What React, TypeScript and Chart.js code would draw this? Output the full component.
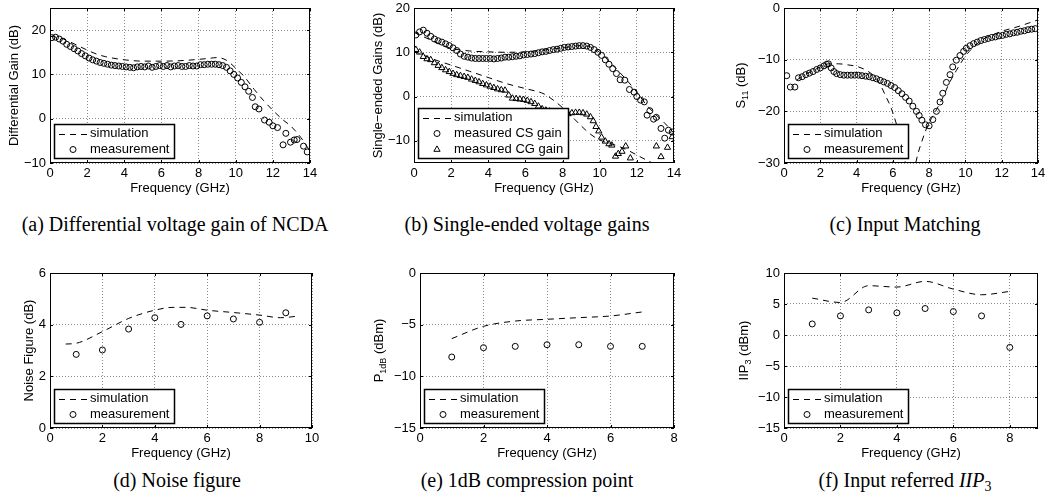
import React, { useEffect, useRef } from 'react';
import { Chart, registerables } from 'chart.js';

Chart.register(...registerables);

const SANS = "'Liberation Sans', Arial, Helvetica, sans-serif";
const SERIF = "'Liberation Serif', 'Times New Roman', Times, serif";
const GRID = '#8a8a8a';

// ---------- (a) Differential gain ----------
const A_MEAS_FREQ = [0.1, 0.3, 0.5, 0.7, 0.9, 1.1, 1.3, 1.5, 1.7, 1.9, 2.1, 2.3, 2.5, 2.7, 2.9, 3.1, 3.3, 3.5, 3.7, 3.9, 4.1, 4.3, 4.5, 4.7, 4.9, 5.1, 5.3, 5.5, 5.7, 5.9, 6.1, 6.3, 6.5, 6.7, 6.9, 7.1, 7.3, 7.5, 7.7, 7.9, 8.1, 8.3, 8.5, 8.7, 8.9, 9.1, 9.3, 9.5, 9.7, 9.9, 10.1, 10.3, 10.5, 10.7, 10.9, 11.05, 11.25, 11.55, 11.8, 12.0, 12.25, 12.55, 12.7, 12.95, 13.15, 13.3, 13.65, 13.85];
const A_MEAS_GAIN = [18.3, 18.4, 18.0, 17.5, 16.8, 16.3, 15.8, 15.3, 14.7, 14.2, 13.7, 13.3, 13.0, 12.7, 12.5, 12.3, 12.1, 12.0, 11.9, 11.8, 11.7, 11.6, 11.5, 11.7, 11.8, 11.7, 11.9, 11.6, 11.8, 12.0, 11.8, 12.0, 11.7, 11.9, 12.0, 11.8, 11.8, 12.0, 11.9, 11.9, 12.2, 12.2, 12.3, 12.3, 12.3, 12.2, 12.0, 11.6, 10.8, 10.0, 9.2, 8.2, 7.2, 6.2, 4.8, 2.7, 2.2, -0.3, -0.8, -1.6, -2.0, -5.9, -3.3, -5.3, -4.8, -4.7, -6.2, -7.5];
const A_SIM_FREQ = [0, 0.5, 1, 1.5, 2, 2.5, 3, 3.5, 4, 5, 6, 7, 8, 8.5, 9, 9.5, 10, 10.5, 11, 11.5, 12, 12.5, 13, 13.5, 14];
const A_SIM_GAIN = [18.6, 18.3, 17.5, 16.5, 15.5, 14.6, 14.0, 13.6, 13.3, 13.0, 13.0, 13.1, 13.4, 13.6, 13.8, 13.2, 11.4, 9.3, 6.6, 4.1, 1.9, -0.1, -1.8, -4.2, -7.3];

// ---------- (b) Single-ended gains ----------
const B_CS_FREQ = [0.1, 0.3, 0.5, 0.7, 0.9, 1.1, 1.3, 1.5, 1.7, 1.9, 2.1, 2.3, 2.5, 2.7, 2.9, 3.1, 3.3, 3.5, 3.7, 3.9, 4.1, 4.3, 4.5, 4.7, 4.9, 5.1, 5.3, 5.5, 5.7, 5.9, 6.1, 6.3, 6.5, 6.7, 6.9, 7.1, 7.3, 7.5, 7.7, 7.9, 8.1, 8.3, 8.5, 8.7, 8.9, 9.1, 9.3, 9.5, 9.7, 9.9, 10.1, 10.3, 10.5, 10.7, 10.9, 11.1, 11.35, 11.6, 11.85, 12.0, 12.2, 12.4, 12.55, 12.7, 12.9, 13.05, 13.3, 13.5, 13.7, 13.9];
const B_CS_GAIN = [13.9, 14.6, 15.0, 14.3, 13.6, 13.0, 12.6, 12.3, 11.9, 11.5, 11.0, 10.4, 9.6, 9.1, 8.9, 8.7, 8.6, 8.6, 8.6, 8.6, 8.6, 8.5, 8.6, 8.7, 8.9, 8.9, 9.0, 9.1, 9.2, 9.4, 9.5, 9.6, 9.7, 9.9, 10.1, 10.2, 10.4, 10.6, 10.7, 10.9, 11.1, 11.2, 11.3, 11.4, 11.5, 11.5, 11.4, 11.1, 10.6, 10.0, 9.3, 8.3, 7.3, 6.3, 5.2, 3.8, 3.7, 1.6, 1.0, 0.0, -0.8, -1.2, -4.2, -3.2, -5.1, -4.7, -7.2, -9.4, -7.6, -8.0];
const B_CG_FREQ = [0.1, 0.3, 0.5, 0.7, 0.9, 1.1, 1.3, 1.5, 1.7, 1.9, 2.1, 2.3, 2.5, 2.7, 2.9, 3.1, 3.3, 3.5, 3.7, 3.9, 4.1, 4.3, 4.5, 4.7, 4.9, 5.1, 5.3, 5.5, 5.7, 5.9, 6.1, 6.3, 6.5, 6.7, 6.9, 7.1, 7.3, 7.5, 7.7, 7.9, 8.1, 8.3, 8.5, 8.7, 8.9, 9.1, 9.3, 9.5, 9.65, 9.8, 9.95, 10.1, 10.3, 10.5, 10.65, 10.85, 11.0, 11.2, 11.4, 11.65, 13.05, 13.3, 13.65, 13.9];
const B_CG_GAIN = [10.6, 10.0, 9.0, 8.5, 8.3, 7.6, 7.0, 6.5, 6.0, 5.6, 5.2, 4.9, 4.7, 4.5, 4.3, 3.9, 3.6, 3.3, 2.9, 2.6, 2.3, 2.0, 1.7, 1.5, 1.4, 0.3, -0.4, -0.5, -0.6, -0.7, -0.9, -1.2, -1.6, -2.2, -2.8, -3.1, -3.3, -3.5, -3.7, -3.9, -4.0, -3.9, -3.7, -3.6, -3.6, -3.7, -4.0, -4.6, -5.5, -6.8, -7.8, -9.2, -10.1, -10.7, -11.0, -13.5, -12.9, -12.4, -11.2, -13.9, -11.2, -13.6, -11.5, -9.1];
const B_SIM_CS_FREQ = [0, 1, 2, 3, 4, 5, 6, 7, 8, 9, 9.5, 10, 10.5, 11, 11.5, 12, 12.5, 13, 13.5, 14];
const B_SIM_CS_GAIN = [14.5, 12.6, 10.9, 10.3, 10.1, 10.0, 10.1, 10.5, 11.0, 11.5, 11.2, 10.0, 8.0, 5.8, 3.5, 1.0, -1.8, -4.0, -6.0, -8.3];
const B_SIM_CG_FREQ = [0, 1, 2, 3, 4, 5, 6, 7, 7.5, 8, 8.5, 9, 9.5, 10, 10.5, 11, 11.5, 12, 12.5, 13];
const B_SIM_CG_GAIN = [10.3, 8.5, 7.1, 5.7, 4.3, 2.9, 1.8, 0.6, -0.8, -2.5, -4.5, -6.6, -8.5, -9.8, -10.5, -11.2, -12.1, -13.2, -14.3, -15.3];

// ---------- (c) Input matching ----------
const C_MEAS_FREQ = [0.15, 0.35, 0.6, 0.8, 1.0, 1.2, 1.4, 1.6, 1.8, 2.0, 2.2, 2.35, 2.45, 2.6, 2.75, 2.9, 3.1, 3.3, 3.5, 3.7, 3.9, 4.1, 4.3, 4.5, 4.7, 4.9, 5.1, 5.3, 5.5, 5.7, 5.9, 6.1, 6.3, 6.5, 6.7, 6.9, 7.1, 7.3, 7.45, 7.6, 7.8, 8.0, 8.2, 8.4, 8.6, 8.75, 8.95, 9.15, 9.3, 9.5, 9.7, 9.9, 10.05, 10.25, 10.45, 10.65, 10.85, 11.05, 11.25, 11.45, 11.65, 11.85, 12.05, 12.25, 12.45, 12.65, 12.85, 13.05, 13.25, 13.45, 13.65, 13.85];
const C_MEAS_S11 = [-13.1, -15.3, -15.3, -13.5, -13.3, -12.9, -12.6, -12.3, -11.9, -11.6, -11.2, -10.9, -10.8, -11.6, -12.3, -12.7, -12.9, -13.0, -13.0, -13.0, -13.0, -13.0, -13.1, -13.2, -13.3, -13.5, -13.7, -14.0, -14.3, -14.6, -15.0, -15.4, -16.0, -16.6, -17.3, -18.0, -19.0, -20.0, -20.8, -21.7, -22.6, -22.8, -21.6, -20.0, -18.2, -16.5, -14.4, -12.9, -11.4, -10.1, -9.2, -8.4, -7.8, -7.3, -6.9, -6.6, -6.3, -6.1, -5.9, -5.7, -5.6, -5.4, -5.3, -5.1, -5.0, -4.8, -4.7, -4.5, -4.4, -4.2, -4.1, -4.0];
const C_SIM_FREQ = [0.7, 1, 1.5, 2, 2.5, 3, 3.5, 4, 4.5, 5, 5.3, 5.6, 5.9, 6.2, 6.5, 6.8, 7.0, 7.2, 7.4, 7.6, 7.8, 8.0, 8.4, 8.8, 9.1, 9.5, 10, 10.5, 11, 11.5, 12, 12.5, 13, 13.5, 14];
const C_SIM_S11 = [-14.0, -13.2, -12.3, -11.4, -10.8, -10.8, -11.0, -11.3, -12.0, -13.3, -14.8, -17.0, -19.3, -22.5, -26.5, -32.0, -35.0, -31.0, -28.0, -25.8, -23.8, -22.2, -19.7, -17.0, -14.6, -12.1, -9.3, -7.4, -6.0, -5.2, -4.5, -4.0, -3.5, -2.9, -2.3];

// ---------- (d) Noise figure ----------
const D_MEAS_FREQ = [1, 2, 3, 4, 5, 6, 7, 8, 9];
const D_MEAS_NF = [2.85, 3.02, 3.83, 4.27, 4.01, 4.34, 4.22, 4.09, 4.46];
const D_SIM_FREQ = [0.6, 1, 2, 3, 4, 4.7, 5.2, 6, 7, 8, 8.8, 9.2, 9.5];
const D_SIM_NF = [3.25, 3.28, 3.73, 4.24, 4.56, 4.67, 4.67, 4.56, 4.47, 4.37, 4.27, 4.3, 4.34];

// ---------- (e) P1dB ----------
const E_FREQ = [1, 2, 3, 4, 5, 6, 7];
const E_MEAS_P1DB = [-8.13, -7.23, -7.1, -6.94, -6.94, -7.1, -7.1];
const E_SIM_P1DB = [-6.35, -5.16, -4.65, -4.48, -4.32, -4.16, -3.77];

// ---------- (f) IIP3 ----------
const F_FREQ = [1, 2, 3, 4, 5, 6, 7, 8];
const F_MEAS_IIP3 = [1.78, 3.08, 4.05, 3.57, 4.27, 3.78, 3.08, -2.0];
const F_SIM_IIP3 = [5.95, 5.24, 7.95, 7.73, 8.65, 7.4, 6.49, 7.03];

const LEG_SIM = 'simulation';
const LEG_MEAS = 'measurement';
const LEG_CS = 'measured CS gain';
const LEG_CG = 'measured CG gain';
const X_TITLE = 'Frequency (GHz)';

type Seg = { t: string; sub?: boolean };
type LegendItem = { label: string; kind: 'dash' | 'circle' | 'triangle' };

const pts = (xs: number[], ys: number[]) => xs.map((x, i) => ({ x, y: ys[i] }));

const simDs = (xs: number[], ys: number[]) => ({
  data: pts(xs, ys),
  showLine: true,
  borderColor: '#000',
  borderWidth: 1,
  borderDash: [6, 5],
  pointRadius: 0,
  cubicInterpolationMode: 'monotone',
  fill: false,
});
const circDs = (xs: number[], ys: number[]) => ({
  data: pts(xs, ys),
  showLine: false,
  pointStyle: 'circle',
  pointRadius: 3,
  borderColor: '#000',
  borderWidth: 1,
  backgroundColor: 'rgba(0,0,0,0)',
});
const triDs = (xs: number[], ys: number[]) => ({
  data: pts(xs, ys),
  showLine: false,
  pointStyle: 'triangle',
  pointRadius: 3.6,
  borderColor: '#000',
  borderWidth: 1,
  backgroundColor: 'rgba(0,0,0,0)',
});

interface PanelDef {
  id: string;
  plot: { l: number; t: number; r: number; b: number };
  xMax: number;
  yMin: number;
  yMax: number;
  yStep: number;
  yTitle: Seg[];
  yTitleOffset: number;
  datasets: any[];
  legend: LegendItem[];
}

const PANELS: PanelDef[] = [
  {
    id: 'a', plot: { l: 50, t: 8, r: 310, b: 163 }, xMax: 14, yMin: -10, yMax: 25, yStep: 10,
    yTitle: [{ t: 'Differential Gain (dB)' }], yTitleOffset: 37,
    datasets: [simDs(A_SIM_FREQ, A_SIM_GAIN), circDs(A_MEAS_FREQ, A_MEAS_GAIN)],
    legend: [{ label: LEG_SIM, kind: 'dash' }, { label: LEG_MEAS, kind: 'circle' }],
  },
  {
    id: 'b', plot: { l: 414, t: 8, r: 674, b: 163 }, xMax: 14, yMin: -15, yMax: 20, yStep: 10,
    yTitle: [{ t: 'Single\u2212ended Gains (dB)' }], yTitleOffset: 37,
    datasets: [
      simDs(B_SIM_CS_FREQ, B_SIM_CS_GAIN), simDs(B_SIM_CG_FREQ, B_SIM_CG_GAIN),
      circDs(B_CS_FREQ, B_CS_GAIN), triDs(B_CG_FREQ, B_CG_GAIN),
    ],
    legend: [{ label: LEG_SIM, kind: 'dash' }, { label: LEG_CS, kind: 'circle' }, { label: LEG_CG, kind: 'triangle' }],
  },
  {
    id: 'c', plot: { l: 784, t: 8, r: 1038, b: 163 }, xMax: 14, yMin: -30, yMax: 0, yStep: 10,
    yTitle: [{ t: 'S' }, { t: '11', sub: true }, { t: ' (dB)' }], yTitleOffset: 44,
    datasets: [simDs(C_SIM_FREQ, C_SIM_S11), circDs(C_MEAS_FREQ, C_MEAS_S11)],
    legend: [{ label: LEG_SIM, kind: 'dash' }, { label: LEG_MEAS, kind: 'circle' }],
  },
  {
    id: 'd', plot: { l: 50, t: 273, r: 312, b: 428 }, xMax: 10, yMin: 0, yMax: 6, yStep: 2,
    yTitle: [{ t: 'Noise Figure (dB)' }], yTitleOffset: 22,
    datasets: [simDs(D_SIM_FREQ, D_SIM_NF), circDs(D_MEAS_FREQ, D_MEAS_NF)],
    legend: [{ label: LEG_SIM, kind: 'dash' }, { label: LEG_MEAS, kind: 'circle' }],
  },
  {
    id: 'e', plot: { l: 420, t: 273, r: 674, b: 428 }, xMax: 8, yMin: -15, yMax: 0, yStep: 5,
    yTitle: [{ t: 'P' }, { t: '1dB', sub: true }, { t: ' (dBm)' }], yTitleOffset: 42,
    datasets: [simDs(E_FREQ, E_SIM_P1DB), circDs(E_FREQ, E_MEAS_P1DB)],
    legend: [{ label: LEG_SIM, kind: 'dash' }, { label: LEG_MEAS, kind: 'circle' }],
  },
  {
    id: 'f', plot: { l: 784, t: 273, r: 1038, b: 428 }, xMax: 9, yMin: -15, yMax: 10, yStep: 5,
    yTitle: [{ t: 'IIP' }, { t: '3', sub: true }, { t: ' (dBm)' }], yTitleOffset: 41,
    datasets: [simDs(F_FREQ, F_SIM_IIP3), circDs(F_FREQ, F_MEAS_IIP3)],
    legend: [{ label: LEG_SIM, kind: 'dash' }, { label: LEG_MEAS, kind: 'circle' }],
  },
];

const CAPTIONS = [
  { x: 175, y: 224, text: '(a) Differential voltage gain of NCDA' },
  { x: 527, y: 224, text: '(b) Single-ended voltage gains' },
  { x: 905, y: 224, text: '(c) Input Matching' },
  { x: 177, y: 480, text: '(d) Noise figure' },
  { x: 527, y: 480, text: '(e) 1dB compression point' },
  { x: 905, y: 480, text: '(f) Input referred ' },
];

const fmt = (v: any) => {
  const n = Number(v);
  return n < 0 ? '\u2212' + Math.abs(n) : String(n);
};

const paperPlugin = {
  id: 'paper',
  afterDatasetsDraw(chart: any, _args: any, opts: any) {
    const { ctx, chartArea: a, scales } = chart;
    ctx.save();
    ctx.strokeStyle = '#000';
    ctx.lineWidth = 1;
    ctx.setLineDash([]);
    const TL = 3;
    ctx.beginPath();
    scales.x.ticks.forEach((t: any) => {
      const p = Math.round(scales.x.getPixelForValue(t.value)) + 0.5;
      ctx.moveTo(p, a.bottom); ctx.lineTo(p, a.bottom - TL);
      ctx.moveTo(p, a.top); ctx.lineTo(p, a.top + TL);
    });
    scales.y.ticks.forEach((t: any) => {
      const p = Math.round(scales.y.getPixelForValue(t.value)) + 0.5;
      ctx.moveTo(a.left, p); ctx.lineTo(a.left + TL, p);
      ctx.moveTo(a.right, p); ctx.lineTo(a.right - TL, p);
    });
    ctx.stroke();
    ctx.strokeRect(a.left + 0.5, a.top + 0.5, a.right - a.left - 1, a.bottom - a.top - 1);

    // legend box
    const items: LegendItem[] = opts.items || [];
    ctx.font = `13px ${SANS}`;
    const tw = Math.max(...items.map((i) => ctx.measureText(i.label).width));
    const w = Math.round(36 + tw + 5);
    const h = 16 * items.length + 2;
    const x0 = a.left + 4;
    const y0 = Math.round(a.bottom - 5 - h);
    ctx.fillStyle = '#fff';
    ctx.fillRect(x0, y0, w, h);
    ctx.strokeStyle = '#000';
    ctx.lineWidth = 1.5;
    ctx.strokeRect(x0 + 0.5, y0 + 0.5, w, h);
    ctx.lineWidth = 1;
    items.forEach((it, i) => {
      const cy = y0 + 9.5 + 16 * i;
      const mx = x0 + 19;
      ctx.beginPath();
      if (it.kind === 'dash') {
        ctx.setLineDash([6, 5]);
        ctx.moveTo(x0 + 5, Math.round(cy) + 0.5);
        ctx.lineTo(x0 + 33, Math.round(cy) + 0.5);
        ctx.stroke();
        ctx.setLineDash([]);
      } else if (it.kind === 'circle') {
        ctx.arc(mx, cy, 3, 0, Math.PI * 2);
        ctx.stroke();
      } else {
        const r = 3.6;
        ctx.moveTo(mx, cy - r);
        ctx.lineTo(mx + 0.866 * r, cy + 0.5 * r);
        ctx.lineTo(mx - 0.866 * r, cy + 0.5 * r);
        ctx.closePath();
        ctx.stroke();
      }
      ctx.fillStyle = '#000';
      ctx.textBaseline = 'middle';
      ctx.textAlign = 'left';
      ctx.font = `13px ${SANS}`;
      ctx.fillText(it.label, x0 + 36, cy);
    });

    // rotated y title with subscripts
    const segs: Seg[] = opts.yTitle || [];
    ctx.translate(a.left - opts.yTitleOffset, (a.top + a.bottom) / 2);
    ctx.rotate(-Math.PI / 2);
    const fMain = `13px ${SANS}`;
    const fSub = `9px ${SANS}`;
    const widths = segs.map((s) => {
      ctx.font = s.sub ? fSub : fMain;
      return ctx.measureText(s.t).width;
    });
    const total = widths.reduce((p, c) => p + c, 0);
    let cx = -total / 2;
    ctx.textAlign = 'left';
    ctx.textBaseline = 'alphabetic';
    ctx.fillStyle = '#000';
    segs.forEach((s, i) => {
      ctx.font = s.sub ? fSub : fMain;
      ctx.fillText(s.t, cx, s.sub ? 7.5 : 4.5);
      cx += widths[i];
    });
    ctx.restore();
  },
};

function Panel({ def }: { def: PanelDef }) {
  const ref = useRef<HTMLCanvasElement | null>(null);
  const { l, t, r, b } = def.plot;
  const AX = Math.min(60, l);
  const padTop = 8;
  const padRight = Math.min(10, 1046 - r);
  const XH = 35;
  const cw = AX + (r - l) + padRight;
  const ch = padTop + (b - t) + XH;

  useEffect(() => {
    const canvas = ref.current;
    if (!canvas) return;
    const tickFont = { family: SANS, size: 13 };
    const chart = new Chart(canvas, {
      type: 'scatter',
      data: { datasets: def.datasets as any },
      plugins: [paperPlugin as any],
      options: {
        animation: false,
        responsive: false,
        events: [],
        layout: { padding: { left: 0, top: padTop, right: padRight, bottom: 0 } },
        plugins: {
          legend: { display: false },
          tooltip: { enabled: false },
          paper: { items: def.legend, yTitle: def.yTitle, yTitleOffset: def.yTitleOffset },
        } as any,
        scales: {
          x: {
            type: 'linear',
            min: 0,
            max: def.xMax,
            afterFit: (s: any) => { s.height = XH; s.paddingLeft = 0; s.paddingRight = 0; },
            ticks: {
              stepSize: 2, includeBounds: false, autoSkip: false, maxRotation: 0, minRotation: 0,
              padding: 3, color: '#000', font: tickFont, callback: fmt,
            },
            grid: { color: GRID, lineWidth: 1, drawTicks: false, borderDash: [1, 2] } as any,
            border: { display: false, dash: [1, 2] },
            title: { display: true, text: X_TITLE, color: '#000', font: tickFont, padding: { top: 0, bottom: 2 } },
          },
          y: {
            type: 'linear',
            min: def.yMin,
            max: def.yMax,
            afterFit: (s: any) => { s.width = AX; s.paddingTop = 0; s.paddingBottom = 0; },
            ticks: {
              stepSize: def.yStep, includeBounds: false, autoSkip: false,
              padding: 4, color: '#000', font: tickFont, callback: fmt,
            },
            grid: { color: GRID, lineWidth: 1, drawTicks: false, borderDash: [1, 2] } as any,
            border: { display: false, dash: [1, 2] },
          },
        },
      } as any,
    });
    return () => chart.destroy();
  }, []);

  return (
    <canvas
      ref={ref}
      width={cw}
      height={ch}
      style={{ position: 'absolute', left: l - AX, top: t - padTop, width: cw, height: ch }}
    />
  );
}

export default function App() {
  return (
    <div
      style={{
        position: 'absolute', left: 0, top: 0, width: 1046, height: 498,
        overflow: 'hidden', background: '#fff',
      }}
    >
      {PANELS.map((p) => (
        <Panel key={p.id} def={p} />
      ))}
      {CAPTIONS.map((c, i) => (
        <div
          key={i}
          style={{
            position: 'absolute', left: c.x - 250, top: c.y - 13, width: 500, height: 26,
            lineHeight: '26px', textAlign: 'center', fontFamily: SERIF, fontSize: 20,
            whiteSpace: 'nowrap', color: '#000',
          }}
        >
          {c.text}
          {i === 5 ? (
            <span>
              <i>IIP</i>
              <span style={{ fontSize: 14, position: 'relative', top: 4 }}>3</span>
            </span>
          ) : null}
        </div>
      ))}
    </div>
  );
}
